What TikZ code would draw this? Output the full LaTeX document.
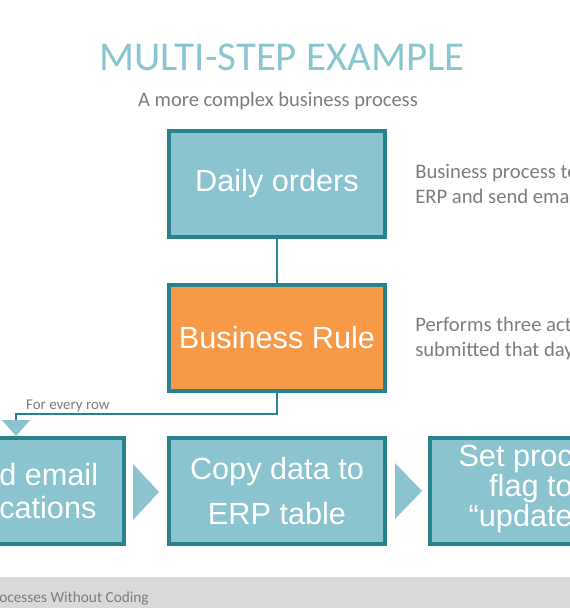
\documentclass[tikz,border=0pt]{standalone}
\usepackage{fontspec}
\setmainfont{Carlito}
\newfontfamily\boxfont{Liberation Sans}
\usetikzlibrary{positioning,arrows.meta}

\definecolor{boxfill}{RGB}{139,196,206}
\definecolor{boxline}{RGB}{40,131,142}
\definecolor{rulefill}{RGB}{247,153,70}
\definecolor{titleblue}{RGB}{138,198,208}
\definecolor{textgray}{RGB}{125,125,125}
\definecolor{footgray}{RGB}{217,217,217}

\tikzset{
  stepbox/.style={draw=boxline, line width=3pt, fill=boxfill, minimum width=162pt,
    minimum height=79.5pt, inner sep=0pt, text=white, align=center,
    font=\boxfont\fontsize{23}{24.75}\selectfont},
  boxtext/.style={text=white, inner sep=0pt, font=\boxfont\fontsize{23}{24.75}\selectfont},
  desc/.style={text=textgray, align=left, inner sep=0pt, font=\fontsize{15.5}{18.75}\selectfont},
  link/.style={draw=boxline, line width=1.5pt},
  chevron/.style={fill=boxfill}
}

\begin{document}
\begin{tikzpicture}[x=0.75pt, y=-0.75pt]

  \clip (0,0) rectangle (570,608);

  % ***************** TITLE *****************
  \node[text=titleblue, anchor=base, font=\fontsize{30.7}{32}\selectfont] (title) at (282,70) {MULTI-STEP EXAMPLE};
  \node[text=textgray, anchor=base, font=\fontsize{15.4}{18}\selectfont] (subtitle) at (278,106) {A more complex business process};

  % ***************** TOP *****************
  \node[stepbox] (daily) at (277,184) {Daily orders};
  \node[desc, right=21pt of daily] (dailynote) {Business process to\\ERP and send ema};

  \node[stepbox, fill=rulefill, below=33pt of daily] (rule) {Business Rule};
  \node[desc, right=21pt of rule] (rulenote) {Performs three act\\submitted that day};

  \draw[link] (daily) -- (rule);

  % ***************** ROW *****************
  \node[stepbox, below=32.25pt of rule, font=\boxfont\fontsize{23}{33.75}\selectfont] (copy) {Copy data to\\ERP table};
  \node[stepbox, left=30.75pt of copy] (send) {};
  \node[stepbox, right=30.75pt of copy] (flag) {};

  \node[boxtext, align=left, anchor=west] (sendtext) at (-1,491) {d email\\cations};
  \node[boxtext, align=right, anchor=east, font=\boxfont\fontsize{23}{22.5}\selectfont] (flagtext) at (573,489) {Set proc\\flag to\\“update};

  \fill[chevron] (133,464) -- (159,492) -- (133,520) -- cycle;
  \fill[chevron] (395,463) -- (422,491) -- (395,519) -- cycle;

  \draw[link, -{Triangle[width=21pt, length=12pt, color=boxfill]}] (rule.south) -- ++(0,21)
    -| node[pos=0.485, anchor=south west, inner sep=1pt, text=textgray, font=\fontsize{11.2}{12}\selectfont] (everyrow) {For every row} (send.north);

  % ***************** FOOTER *****************
  \fill[footgray] (0,577) rectangle (570,608);
  \node[text=textgray, anchor=base west, inner sep=0pt, font=\fontsize{11.5}{12}\selectfont] (footer) at (-1,602) {ocesses Without Coding};

\end{tikzpicture}
\end{document}
